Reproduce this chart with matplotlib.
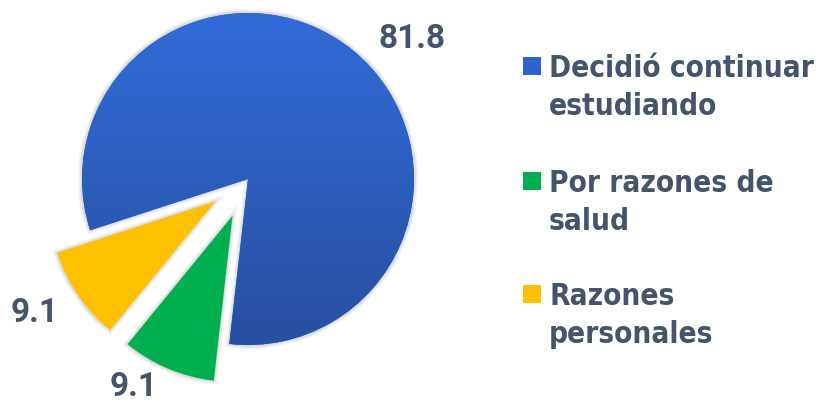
import numpy as np
import matplotlib.pyplot as plt
from matplotlib.patches import Rectangle

# data
labels = ['Decidió continuar\nestudiando', 'Por razones de\nsalud', 'Razones\npersonales']
values = [81.8, 9.1, 9.1]
value_labels = ['81.8', '9.1', '9.1']
colors = ['#2E63CC', '#00B050', '#FFC000']
explode = [0, 0.24, 0.24]

txt_color = '#44546A'
W, H = 823, 404
fig = plt.figure(figsize=(W/100, H/100), dpi=100)

# pie centre in pixels and radius
cx, cy, R = 248, 179, 166
ax = fig.add_axes([0, 0, 480/W, 1])
wedges, _ = ax.pie(values, colors=colors, explode=explode, startangle=198,
                   counterclock=False, radius=1,
                   wedgeprops=dict(linewidth=0))
ax.axis('off')

# soft shadow behind slices
for w in wedges:
    for k, a in [(0.035, 0.04), (0.022, 0.05), (0.01, 0.06)]:
        sh = plt.Polygon(w.get_path().vertices, closed=True, transform=w.get_transform(),
                         facecolor='none', edgecolor='black', linewidth=k*R*0.9, alpha=a, zorder=0)
        ax.add_patch(sh)

# vertical gradient on the big slice
top = np.array([0x31, 0x6B, 0xD8]) / 255
bot = np.array([0x27, 0x50, 0xA0]) / 255
t = np.linspace(0, 1, 256)[:, None]
grad = (top * (1 - t) + bot * t)[:, None, :]
im = ax.imshow(grad, extent=[-1, 1, -1, 1], aspect='auto', zorder=2, origin='upper')
im.set_clip_path(wedges[0])
ax.set_xlim((0-cx)/R, (480-cx)/R)
ax.set_ylim((cy-H)/R, cy/R)
ax.set_aspect('auto')

# value labels (x centre, baseline in pixels)
num_font = dict(fontsize=24, fontweight='bold', color=txt_color, family=['Roboto', 'DejaVu Sans'])
pos = [(412, 48), (134, 396), (35, 322)]
for (x, y), s in zip(pos, value_labels):
    ax.text((x-cx)/R, (cy-y)/R, s, ha='center', va='baseline', **num_font)

# legend drawn by hand
leg_font = dict(fontsize=21.3, fontweight='bold', fontstretch='condensed', color=txt_color,
                family=['DejaVu Sans'])
base = [77, 192, 305]
for b, lab, c in zip(base, labels, colors):
    fig.patches.append(Rectangle((523/W, 1-(b-2)/H), 18/W, 18/H, transform=fig.transFigure,
                                 facecolor=c, edgecolor='none'))
    for i, line in enumerate(lab.split('\n')):
        fig.text(549/W, 1-(b + 38*i)/H, line, ha='left', va='baseline', **leg_font)

fig.savefig('out.png', dpi=100)
